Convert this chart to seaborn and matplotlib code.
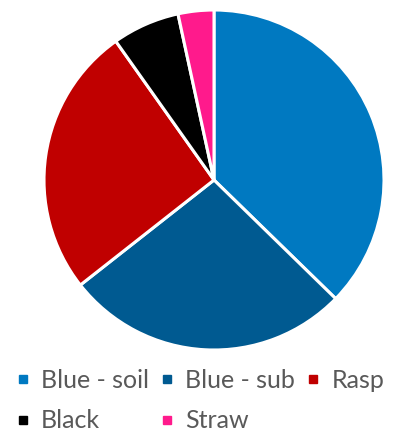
import matplotlib
matplotlib.use("Agg")
import matplotlib.pyplot as plt
from matplotlib.lines import Line2D
import seaborn as sns

categories = ["Blue - soil", "Blue - sub", "Rasp", "Black", "Straw"]
shares = [37.3, 27.1, 25.8, 6.4, 3.4]
colors = ["#0079C1", "#005A91", "#C00000", "#000000", "#FF1A8C"]

sns.set_theme(style="white")
plt.rcParams["font.family"] = ["Lato", "DejaVu Sans"]

W, H = 405, 433
fig = plt.figure(figsize=(W / 100, H / 100), dpi=100)
fig.patch.set_facecolor("white")

# square axes holding the pie
cx, cy, r = 214, 180, 170
ax = fig.add_axes([(cx - r) / W, (H - cy - r) / H, 2 * r / W, 2 * r / H])
ax.pie(shares, colors=colors, startangle=90, counterclock=False,
       wedgeprops=dict(edgecolor="white", linewidth=2.2))
ax.set_xlim(-1, 1)
ax.set_ylim(-1, 1)
ax.set_aspect("equal")
ax.axis("off")

# legend: entries laid out row by row (matplotlib fills columns first)
order = [0, 3, 1, 4, 2]
handles = [Line2D([], [], marker="s", linestyle="none", markersize=6.2,
                  color=colors[i]) for i in order]
labels = [categories[i] for i in order]
leg = fig.legend(handles, labels, ncol=3, frameon=False,
                 loc="upper left", bbox_to_anchor=(16 / W, 1 - 369 / H),
                 fontsize=18, labelcolor="#595959",
                 handlelength=0.55, handletextpad=0.45,
                 columnspacing=0.45, labelspacing=0.7,
                 borderaxespad=0, borderpad=0)

fig.savefig("out.png", dpi=100, facecolor="white")
